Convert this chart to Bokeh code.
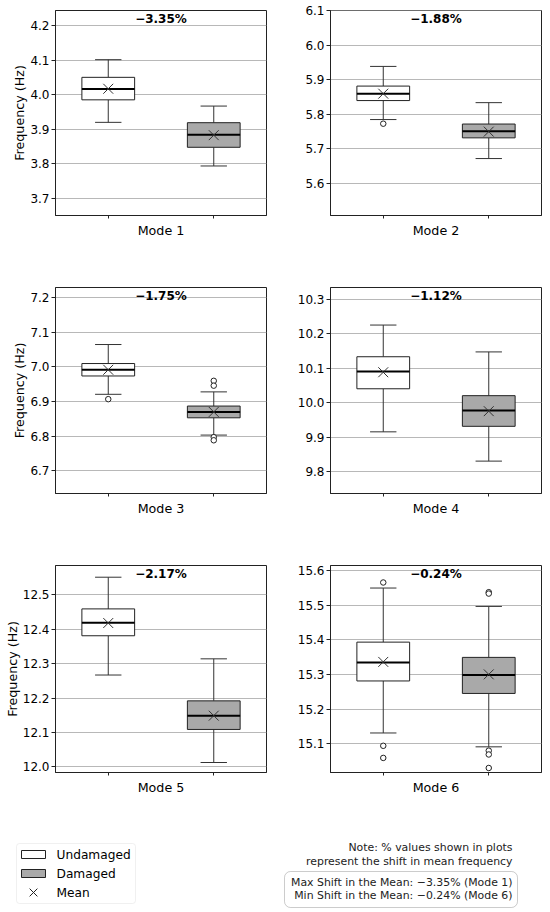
from bokeh.plotting import figure
from bokeh.layouts import column, row
from bokeh.models import Range1d, FixedTicker, PrintfTickFormatter, BoxAnnotation, ColumnDataSource
from bokeh.embed import file_html
from bokeh.resources import INLINE
from bokeh.core.properties import value

FONT = "DejaVu Sans"

# ---------------- data ----------------
modes = ["Mode 1", "Mode 2", "Mode 3", "Mode 4", "Mode 5", "Mode 6"]
groups = ["Undamaged", "Damaged"]
positions = [1, 2]

# Undamaged statistics
u_low = [3.920, 5.785, 6.921, 9.915, 12.267, 15.131]
u_q1 = [3.985, 5.840, 6.974, 10.040, 12.381, 15.281]
u_med = [4.016, 5.860, 6.992, 10.090, 12.419, 15.334]
u_q3 = [4.050, 5.882, 7.010, 10.133, 12.459, 15.393]
u_high = [4.101, 5.939, 7.065, 10.225, 12.551, 15.549]
u_mean = [4.017, 5.860, 6.992, 10.088, 12.418, 15.336]
u_out = [[], [5.773], [6.907], [], [], [15.565, 15.094, 15.059]]

# Damaged statistics
d_low = [3.794, 5.672, 6.803, 9.830, 12.013, 15.091]
d_q1 = [3.848, 5.732, 6.853, 9.931, 12.109, 15.245]
d_med = [3.884, 5.751, 6.870, 9.977, 12.149, 15.298]
d_q3 = [3.919, 5.772, 6.887, 10.020, 12.192, 15.349]
d_high = [3.967, 5.834, 6.928, 10.147, 12.314, 15.496]
d_mean = [3.883, 5.750, 6.870, 9.975, 12.149, 15.300]
d_out = [[], [], [6.960, 6.946, 6.797, 6.788], [], [],
         [15.537, 15.533, 15.080, 15.069, 15.030]]

shift_pct = [-3.35, -1.88, -1.75, -1.12, -2.17, -0.24]

# axis limits and tick values
y_lo = [3.651, 5.507, 6.634, 9.736, 11.984, 15.017]
y_hi = [4.243, 6.101, 7.230, 10.334, 12.585, 15.614]
y_ticks = [
    [3.7, 3.8, 3.9, 4.0, 4.1, 4.2],
    [5.6, 5.7, 5.8, 5.9, 6.0, 6.1],
    [6.7, 6.8, 6.9, 7.0, 7.1, 7.2],
    [9.8, 9.9, 10.0, 10.1, 10.2, 10.3],
    [12.0, 12.1, 12.2, 12.3, 12.4, 12.5],
    [15.1, 15.2, 15.3, 15.4, 15.5, 15.6],
]

# ---------------- styles ----------------
FILL = ["white", "#a9a9a9"]
EDGE = "#222222"
WHISK = "#333333"
BOX_W = 0.5
CAP_W = 0.25


def fmt_pct(v):
    s = f"{abs(v):.2f}%"
    return ("\u2212" + s) if v < 0 else s


def make_panel(i, height, btop, bbot, fh):
    left = (i % 2 == 0)
    p = figure(width=275, height=height,
               min_border_left=55, min_border_right=9,
               min_border_top=btop, min_border_bottom=bbot,
               x_range=Range1d(0.5, 2.5), y_range=Range1d(y_lo[i], y_hi[i]),
               output_backend="svg", toolbar_location=None, tools="")
    p.background_fill_color = "white"
    p.border_fill_color = "white"
    p.outline_line_color = EDGE
    p.outline_line_width = 1
    p.outline_line_alpha = 1
    p.xgrid.visible = False
    p.ygrid.grid_line_color = "#b8b8b8"
    p.ygrid.grid_line_width = 1
    p.ygrid.ticker = FixedTicker(ticks=y_ticks[i])

    xa = p.xaxis[0]
    # tick marks only (no tick labels), drawn as minor ticks at the box positions
    xa.ticker = FixedTicker(ticks=[], minor_ticks=positions)
    xa.major_label_standoff = 0
    xa.major_tick_out = 3
    xa.major_tick_in = 0
    xa.minor_tick_out = 3
    xa.minor_tick_in = 0
    xa.axis_line_color = EDGE
    xa.minor_tick_line_color = EDGE
    xa.axis_label = modes[i]
    xa.axis_label_text_font = FONT
    xa.axis_label_text_font_size = "12.7px"
    xa.axis_label_text_font_style = "normal"
    xa.axis_label_text_color = "black"
    xa.axis_label_standoff = 4

    ya = p.yaxis[0]
    ya.ticker = FixedTicker(ticks=y_ticks[i])
    ya.formatter = PrintfTickFormatter(format="%.1f")
    ya.major_label_text_font = FONT
    ya.major_label_text_font_size = "12px"
    ya.major_label_text_color = "black"
    ya.major_label_standoff = 2
    ya.major_tick_out = 4
    ya.major_tick_in = 0
    ya.minor_tick_out = 0
    ya.minor_tick_in = 0
    ya.axis_line_color = EDGE
    ya.major_tick_line_color = EDGE
    if left:
        ya.axis_label = "Frequency (Hz)"
        ya.axis_label_text_font = FONT
        ya.axis_label_text_font_size = "12.7px"
        ya.axis_label_text_font_style = "normal"
        ya.axis_label_text_color = "black"
        ya.axis_label_standoff = 0

    src = ColumnDataSource(dict(
        x=positions,
        low=[u_low[i], d_low[i]], q1=[u_q1[i], d_q1[i]], med=[u_med[i], d_med[i]],
        q3=[u_q3[i], d_q3[i]], high=[u_high[i], d_high[i]], mean=[u_mean[i], d_mean[i]],
        fill=FILL,
        cap0=[x - CAP_W / 2 for x in positions], cap1=[x + CAP_W / 2 for x in positions],
        box0=[x - BOX_W / 2 for x in positions], box1=[x + BOX_W / 2 for x in positions],
    ))
    # whiskers
    p.segment(x0="x", y0="q3", x1="x", y1="high", source=src, line_color=WHISK, line_width=1)
    p.segment(x0="x", y0="q1", x1="x", y1="low", source=src, line_color=WHISK, line_width=1)
    # caps
    p.segment(x0="cap0", y0="high", x1="cap1", y1="high", source=src, line_color=WHISK, line_width=1)
    p.segment(x0="cap0", y0="low", x1="cap1", y1="low", source=src, line_color=WHISK, line_width=1)
    # boxes
    p.vbar(x="x", width=BOX_W, bottom="q1", top="q3", source=src,
           fill_color="fill", line_color=EDGE, line_width=1)
    # medians
    p.segment(x0="box0", y0="med", x1="box1", y1="med", source=src,
              line_color="black", line_width=2)
    # means
    p.scatter(x="x", y="mean", source=src, marker="x", size=14,
              line_color="#333333", line_width=1)
    # outliers
    ox, oy = [], []
    for pos, outs in zip(positions, [u_out[i], d_out[i]]):
        for v in outs:
            ox.append(pos)
            oy.append(v)
    if ox:
        p.scatter(x=ox, y=oy, marker="circle", size=5.5, fill_color="white",
                  line_color=EDGE, line_width=1)
    # shift label
    ty = y_hi[i] - 8.5 / fh * (y_hi[i] - y_lo[i])
    p.text(x=[1.5], y=[ty], text=[fmt_pct(shift_pct[i])], text_align="center",
           text_baseline="middle", text_font=value(FONT), text_font_style="bold",
           text_font_size="12px", text_color="black")
    return p


# row layout: (height, border top, border bottom, frame height)
rows_spec = [(280, 10, 65, 205), (278, 7, 65, 206), (242, 7, 28, 207)]
rows = []
for r, (h, bt, bb, fh) in enumerate(rows_spec):
    a = make_panel(2 * r, h, bt, bb, fh)
    b = make_panel(2 * r + 1, h, bt, bb, fh)
    rows.append(row(a, b))

# ---------------- bottom: legend and notes ----------------
FB_TOP = 800
FB_H = 112
fb = figure(width=550, height=FB_H, x_range=Range1d(0, 550), y_range=Range1d(0, FB_H),
            min_border=0, x_axis_type=None, y_axis_type=None,
            output_backend="svg", toolbar_location=None, tools="")
fb.outline_line_color = None
fb.grid.visible = False
fb.background_fill_color = "white"
fb.border_fill_color = "white"


def yy(py):
    return FB_TOP + FB_H - py


fb.add_layout(BoxAnnotation(left=16, right=135, top=yy(843), bottom=yy(903),
                            fill_color=None, line_color="#cccccc", line_width=1,
                            border_radius=3, level="underlay"))
rows_y = [yy(854), yy(873), yy(892)]
fb.rect(x=[33, 33], y=rows_y[:2], width=24, height=8, fill_color=FILL,
        line_color=EDGE, line_width=1)
fb.scatter(x=[33], y=[rows_y[2]], marker="x", size=11, line_color="#222222", line_width=1)
fb.text(x=[56, 56, 56], y=rows_y, text=groups + ["Mean"], text_align="left",
        text_baseline="middle", text_font=value(FONT), text_font_size="12.2px",
        text_color="black")

fb.text(x=[512, 512], y=[yy(847), yy(861)],
        text=["Note: % values shown in plots", "represent the shift in mean frequency"],
        text_align="right", text_baseline="middle", text_font=value(FONT),
        text_font_size="10.9px", text_color="#222222")

imax = min(range(6), key=lambda k: shift_pct[k])
imin = max(range(6), key=lambda k: shift_pct[k])
fb.add_layout(BoxAnnotation(left=284, right=517, top=yy(871), bottom=yy(907),
                            fill_color=None, line_color="#555555", line_width=1,
                            border_radius=6, level="underlay"))
fb.text(x=[512, 512], y=[yy(882), yy(895)],
        text=[f"Max Shift in the Mean: {fmt_pct(shift_pct[imax])} ({modes[imax]})",
              f"Min Shift in the Mean: {fmt_pct(shift_pct[imin])} ({modes[imin]})"],
        text_align="right", text_baseline="middle", text_font=value(FONT),
        text_font_size="10.9px", text_color="#222222")

layout = column(*rows, fb)
open("out.html", "w").write(file_html(layout, INLINE))
